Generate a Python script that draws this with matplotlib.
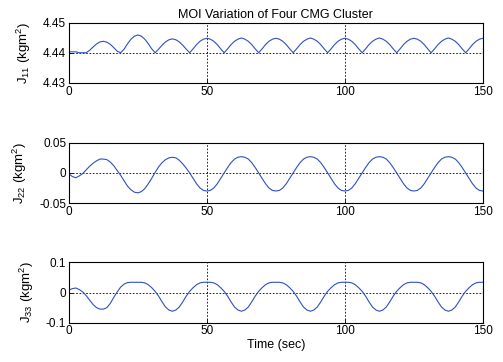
import numpy as np
import matplotlib
matplotlib.use("Agg")
import matplotlib.pyplot as plt

# time samples (s), one every 1.25 s
time_s = np.linspace(0, 150, 121)

j11 = [4.4403, 4.4403, 4.4403, 4.4400, 4.4400, 4.4400,
       4.4408, 4.4419, 4.4429, 4.4436, 4.4438, 4.4435, 4.4428, 4.4417, 4.4405, 4.4400,
       4.4412, 4.4430, 4.4445, 4.4455, 4.4459, 4.4455, 4.4445, 4.4430, 4.4413, 4.4400,
       4.4412, 4.4425, 4.4436, 4.4443, 4.4446, 4.4443, 4.4436, 4.4425, 4.4412, 4.4400,
       4.4413, 4.4427, 4.4438, 4.4445, 4.4448, 4.4445, 4.4438, 4.4427, 4.4413, 4.4400,
       4.4413, 4.4427, 4.4438, 4.4445, 4.4449, 4.4445, 4.4438, 4.4427, 4.4413, 4.4400,
       4.4413, 4.4427, 4.4438, 4.4445, 4.4448, 4.4445, 4.4438, 4.4427, 4.4413, 4.4400,
       4.4413, 4.4427, 4.4438, 4.4445, 4.4449, 4.4445, 4.4438, 4.4427, 4.4413, 4.4400,
       4.4413, 4.4427, 4.4438, 4.4445, 4.4448, 4.4445, 4.4438, 4.4427, 4.4413, 4.4400,
       4.4413, 4.4427, 4.4438, 4.4445, 4.4449, 4.4445, 4.4438, 4.4427, 4.4413, 4.4400,
       4.4413, 4.4427, 4.4438, 4.4445, 4.4448, 4.4445, 4.4438, 4.4427, 4.4413, 4.4400,
       4.4413, 4.4427, 4.4438, 4.4445, 4.4449, 4.4445, 4.4438, 4.4427, 4.4413, 4.4400,
       4.4413, 4.4427, 4.4438, 4.4445, 4.4448]

j22 = [-0.0015, -0.006, -0.008, -0.005, -0.001,
       0.005, 0.011, 0.016, 0.020, 0.023, 0.023, 0.022, 0.018, 0.012, 0.004,
       -0.004, -0.013, -0.022, -0.028, -0.032, -0.033, -0.031, -0.026, -0.018, -0.009,
       0.001, 0.010, 0.017, 0.022, 0.025, 0.026, 0.025, 0.021, 0.015, 0.008, 0.000,
       -0.009, -0.018, -0.025, -0.029, -0.030, -0.029, -0.025, -0.018, -0.009, 0.000,
       0.009, 0.017, 0.023, 0.026, 0.027, 0.026, 0.023, 0.017, 0.009, 0.000,
       -0.009, -0.018, -0.025, -0.029, -0.030, -0.029, -0.025, -0.018, -0.009, 0.000,
       0.009, 0.017, 0.023, 0.026, 0.027, 0.026, 0.023, 0.017, 0.009, 0.000,
       -0.009, -0.018, -0.025, -0.029, -0.030, -0.029, -0.025, -0.018, -0.009, 0.000,
       0.009, 0.017, 0.023, 0.026, 0.027, 0.026, 0.023, 0.017, 0.009, 0.000,
       -0.009, -0.018, -0.025, -0.029, -0.030, -0.029, -0.025, -0.018, -0.009, 0.000,
       0.009, 0.017, 0.023, 0.026, 0.027, 0.026, 0.023, 0.017, 0.009, 0.000,
       -0.009, -0.018, -0.025, -0.029, -0.030]

j33 = [0.008, 0.013, 0.015, 0.010, 0.002, -0.010, -0.025, -0.040, -0.050, -0.055,
       -0.055, -0.050, -0.036, -0.016, 0.002, 0.018, 0.028, 0.033, 0.034, 0.034,
       0.034, 0.034, 0.032, 0.026, 0.016, 0.004, -0.012, -0.031, -0.048, -0.058,
       -0.062, -0.058, -0.048, -0.031, -0.012, 0.004, 0.016, 0.026, 0.032, 0.034,
       0.034, 0.034, 0.032, 0.026, 0.016, 0.004, -0.012, -0.031, -0.048, -0.058,
       -0.062, -0.058, -0.048, -0.031, -0.012, 0.004, 0.016, 0.026, 0.032, 0.034,
       0.034, 0.034, 0.032, 0.026, 0.016, 0.004, -0.012, -0.031, -0.048, -0.058,
       -0.062, -0.058, -0.048, -0.031, -0.012, 0.004, 0.016, 0.026, 0.032, 0.034,
       0.034, 0.034, 0.032, 0.026, 0.016, 0.004, -0.012, -0.031, -0.048, -0.058,
       -0.062, -0.058, -0.048, -0.031, -0.012, 0.004, 0.016, 0.026, 0.032, 0.034,
       0.034, 0.034, 0.032, 0.026, 0.016, 0.004, -0.012, -0.031, -0.048, -0.058,
       -0.062, -0.058, -0.048, -0.031, -0.012, 0.004, 0.016, 0.026, 0.032, 0.034,
       0.034]

x_ticks = [0, 50, 100, 150]
y_ticks = [[4.43, 4.44, 4.45], [-0.05, 0, 0.05], [-0.1, 0, 0.1]]
y_tick_labels = [['4.43', '4.44', '4.45'], ['-0.05', '0', '0.05'], ['-0.1', '0', '0.1']]
y_labels = ['J$_{11}$ (kgm$^2$)', 'J$_{22}$ (kgm$^2$)', 'J$_{33}$ (kgm$^2$)']

plt.rcParams['font.family'] = ['Liberation Sans', 'DejaVu Sans']
plt.rcParams['mathtext.default'] = 'regular'
plt.rcParams['font.size'] = 8

fig = plt.figure(figsize=(5.03, 3.62), dpi=100)
bottoms = [0.771, 0.439, 0.1086]
series = [j11, j22, j33]

for i, (b, data) in enumerate(zip(bottoms, series)):
    ax = fig.add_axes([0.137, b, 0.823, 0.1666])
    ax.plot(time_s, data, color='#3050c0', lw=0.8)
    ax.set_xlim(0, 150)
    ax.set_ylim(y_ticks[i][0], y_ticks[i][-1])
    ax.set_xticks(x_ticks)
    ax.set_yticks(y_ticks[i])
    ax.set_yticklabels(y_tick_labels[i])
    ax.tick_params(direction='in', length=3, width=0.6, labelsize=8.5, pad=2)
    ax.grid(True, linestyle=(0, (2, 2)), color='k', lw=0.6)
    for s in ax.spines.values():
        s.set_linewidth(0.8)
    ax.set_ylabel(y_labels[i], fontsize=9.5, labelpad=7)
    if i == 0:
        ax.set_title('MOI Variation of Four CMG Cluster', fontsize=9, pad=3)
    if i == 2:
        ax.set_xlabel('Time (sec)', fontsize=9, labelpad=1)

fig.savefig('out.png', dpi=100)
